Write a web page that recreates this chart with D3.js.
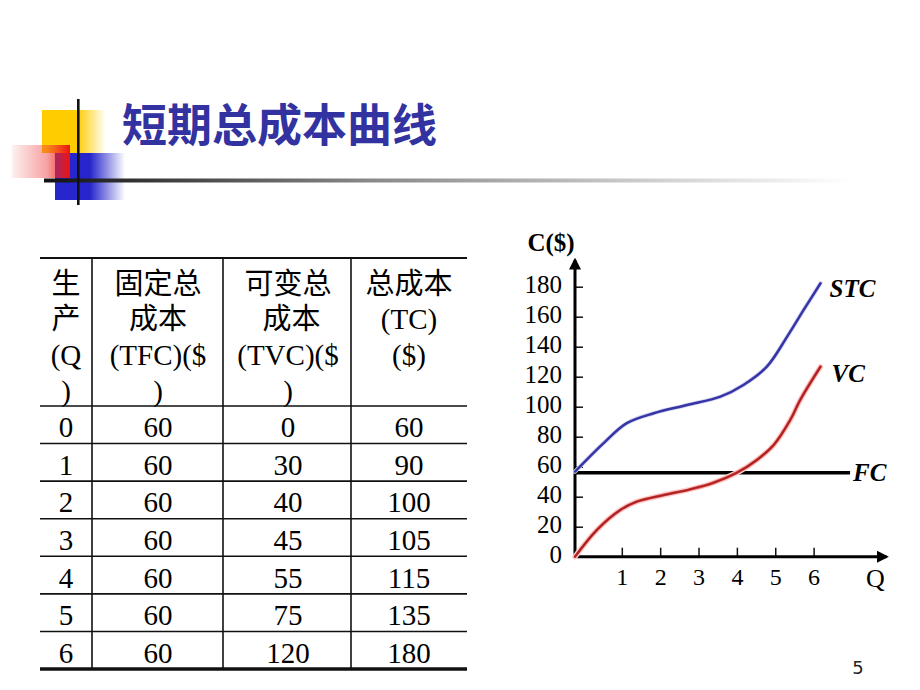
<!DOCTYPE html>
<html>
<head>
<meta charset="utf-8">
<script src="https://cdn.jsdelivr.net/npm/d3@7/dist/d3.min.js"></script>
<style>
  html, body { margin: 0; padding: 0; background: #fff; }
  svg { display: block; }
</style>
</head>
<body>
<svg id="chart" width="920" height="690"></svg>
<script>
// ---------- data ----------
const title = "短期总成本曲线";
const headerQ   = ["生", "产", "(Q", ")"];
const headerTFC = ["固定总", "成本", "(TFC)($", ")"];
const headerTVC = ["可变总", " 成本", "(TVC)($", ")"];
const headerTC  = ["总成本", "(TC)", "($)"];
const Q   = [0, 1, 2, 3, 4, 5, 6];
const TFC = [60, 60, 60, 60, 60, 60, 60];
const TVC = [0, 30, 40, 45, 55, 75, 120];
const TC  = [60, 90, 100, 105, 115, 135, 180];

// curves (Q, cost)
const stcQ = [-0.22, 0.52, 1.13, 1.83, 2.70, 3.57, 4.17, 4.78, 5.31, 5.74, 6.18];
const stcC = [56.7, 75.6, 89, 95.6, 101.1, 106.7, 114.5, 126.7, 146.7, 164.5, 182.3];
const vcQ  = [-0.22, 0.35, 0.96, 1.39, 2.09, 2.78, 3.39, 4.0, 4.52, 4.96, 5.39, 5.65, 6.18];
const vcC  = [0, 17.8, 31.1, 36.7, 41.1, 44.9, 49.3, 56, 64.5, 74.5, 91.1, 104.5, 126.7];
const fcQ  = [-0.22, 6.95];
const fcC  = [56, 56];
const yTicks = [0, 20, 40, 60, 80, 100, 120, 140, 160, 180];
const xTicks = [1, 2, 3, 4, 5, 6];
const pageNo = "5";

// ---------- setup ----------
const svg = d3.select("#chart");
const defs = svg.append("defs");
const SERIF = "'Liberation Serif', 'Times New Roman', 'Noto Sans CJK SC', serif";

function lg(id, stops, x1 = "0%", x2 = "100%", y1 = "0%", y2 = "0%") {
  const g = defs.append("linearGradient").attr("id", id)
    .attr("x1", x1).attr("x2", x2).attr("y1", y1).attr("y2", y2);
  stops.forEach(s => g.append("stop").attr("offset", s[0]).attr("stop-color", s[1]).attr("stop-opacity", s[2]));
}
lg("gYellow", [["0%", "#ffcc00", 1], ["55%", "#ffcc00", 1], ["100%", "#ffcc00", 0]]);
lg("gRed", [["0%", "#ee2222", 0.06], ["60%", "#ee3333", 0.45], ["100%", "#ee1111", 1]]);
lg("gBlue", [["0%", "#2626cc", 1], ["50%", "#2626cc", 1], ["100%", "#2626cc", 0]]);
lg("gLine", [["0%", "#111", 1], ["40%", "#888", 1], ["100%", "#fff", 1]]);

// ---------- title decoration ----------
const deco = svg.append("g");
deco.append("rect").attr("x", 42).attr("y", 110).attr("width", 64).attr("height", 43).attr("fill", "url(#gYellow)");
deco.append("rect").attr("x", 55).attr("y", 153).attr("width", 70).attr("height", 47).attr("fill", "url(#gBlue)");
deco.append("rect").attr("x", 12).attr("y", 145).attr("width", 58).attr("height", 33).attr("fill", "url(#gRed)");
deco.append("rect").attr("x", 44).attr("y", 178.5).attr("width", 806).attr("height", 4).attr("fill", "url(#gLine)");
deco.append("rect").attr("x", 77).attr("y", 99).attr("width", 2.6).attr("height", 106).attr("fill", "#111");

svg.append("text").attr("x", 122).attr("y", 142)
  .attr("font-family", "'Noto Sans CJK SC', sans-serif").attr("font-weight", 700)
  .attr("font-size", 45).attr("fill", "#3232a0").text(title);

// ---------- table ----------
const colEdges = [40, 92, 223, 351, 467];
const tableTop = 258, headBottom = 406, tableBottom = 669;
const rowScale = d3.scaleBand().domain(Q).range([headBottom, tableBottom]);
const tbl = svg.append("g").attr("font-family", SERIF).attr("fill", "#000");

tbl.append("line").attr("x1", colEdges[0]).attr("x2", colEdges[4]).attr("y1", tableTop).attr("y2", tableTop)
  .attr("stroke", "#111").attr("stroke-width", 2);
Q.forEach(q => {
  const yy = rowScale(q);
  tbl.append("line").attr("x1", colEdges[0]).attr("x2", colEdges[4]).attr("y1", yy).attr("y2", yy)
    .attr("stroke", "#111").attr("stroke-width", 1.6);
});
tbl.append("line").attr("x1", colEdges[0]).attr("x2", colEdges[4]).attr("y1", tableBottom).attr("y2", tableBottom)
  .attr("stroke", "#111").attr("stroke-width", 3.5);
colEdges.slice(1, 4).forEach(xx => {
  tbl.append("line").attr("x1", xx).attr("x2", xx).attr("y1", tableTop).attr("y2", tableBottom)
    .attr("stroke", "#111").attr("stroke-width", 1.6);
});

const colCenters = [66, 158, 288, 409];
const headers = [headerQ, headerTFC, headerTVC, headerTC];
const headLineY = [294, 329, 365, 401];
headers.forEach((lines, ci) => {
  lines.forEach((t, li) => {
    tbl.append("text").attr("x", colCenters[ci]).attr("y", headLineY[li])
      .attr("text-anchor", "middle").attr("font-size", 29)
      .attr("xml:space", "preserve").style("white-space", "pre").text(t);
  });
});
const cols = [Q, TFC, TVC, TC];
cols.forEach((arr, ci) => {
  arr.forEach((v, i) => {
    tbl.append("text").attr("x", colCenters[ci])
      .attr("y", rowScale(Q[i]) + rowScale.bandwidth() / 2 + 12.5)
      .attr("text-anchor", "middle").attr("font-size", 29).text(v);
  });
});

// ---------- chart ----------
const x = d3.scaleLinear().domain([-0.22, 7.9]).range([575, 886.5]);
const y = d3.scaleLinear().domain([0, 180]).range([556.7, 286.7]);
const ch = svg.append("g");

const yAxis = d3.axisLeft(y).tickValues(yTicks).tickSizeInner(-8).tickSizeOuter(0).tickPadding(13);
const gy = ch.append("g").attr("transform", `translate(${x(-0.22)},0)`).call(yAxis);
gy.select(".domain").remove();
gy.selectAll(".tick line").attr("stroke", "#111").attr("stroke-width", 1.5);
gy.selectAll(".tick text").attr("font-family", SERIF).attr("font-size", 25).attr("fill", "#000").attr("dy", "0.22em");

const xAxis = d3.axisBottom(x).tickValues(xTicks).tickSizeInner(-9).tickSizeOuter(0).tickPadding(11);
const gx = ch.append("g").attr("transform", `translate(0,${y(0)})`).call(xAxis);
gx.select(".domain").remove();
gx.selectAll(".tick line").attr("stroke", "#111").attr("stroke-width", 1.5);
gx.selectAll(".tick text").attr("font-family", SERIF).attr("font-size", 24).attr("fill", "#000");

defs.append("marker").attr("id", "arrow").attr("viewBox", "0 0 10 10").attr("refX", 8).attr("refY", 5)
  .attr("markerWidth", 4).attr("markerHeight", 4).attr("orient", "auto")
  .append("path").attr("d", "M0,0 L10,5 L0,10 Z").attr("fill", "#000");
ch.append("line").attr("x1", x(-0.22)).attr("x2", x(-0.22)).attr("y1", y(0) + 1.5).attr("y2", 260)
  .attr("stroke", "#000").attr("stroke-width", 3).attr("marker-end", "url(#arrow)");
ch.append("line").attr("x1", x(-0.22) - 1.5).attr("x2", x(7.9)).attr("y1", y(0)).attr("y2", y(0))
  .attr("stroke", "#000").attr("stroke-width", 3).attr("marker-end", "url(#arrow)");

const line = d3.line().x(d => x(d[0])).y(d => y(d[1])).curve(d3.curveCatmullRom.alpha(0.5));
const stc = stcQ.map((q, i) => [q, stcC[i]]);
const vc = vcQ.map((q, i) => [q, vcC[i]]);
const fc = fcQ.map((q, i) => [q, fcC[i]]);

ch.append("path").attr("d", line(fc)).attr("fill", "none").attr("stroke", "#000").attr("stroke-width", 3.5);
ch.append("path").attr("d", line(vc)).attr("fill", "none").attr("stroke", "#fdd2d2").attr("stroke-width", 5.5).attr("stroke-linecap", "round");
ch.append("path").attr("d", line(vc)).attr("fill", "none").attr("stroke", "#e45454").attr("stroke-width", 3).attr("stroke-linecap", "round");
ch.append("path").attr("d", line(vc)).attr("fill", "none").attr("stroke", "#a82222").attr("stroke-width", 1.8).attr("stroke-linecap", "round");
ch.append("path").attr("d", line(stc)).attr("fill", "none").attr("stroke", "#d0d0f0").attr("stroke-width", 4.2).attr("stroke-linecap", "round");
ch.append("path").attr("d", line(stc)).attr("fill", "none").attr("stroke", "#3535a6").attr("stroke-width", 2.5).attr("stroke-linecap", "round");

const lab = ch.append("g").attr("font-family", SERIF).attr("font-weight", 700).attr("font-size", 25).attr("fill", "#000");
lab.append("text").attr("x", 551).attr("y", 251).attr("text-anchor", "middle").text("C($)");
lab.append("text").attr("x", x(stcQ[stcQ.length - 1]) + 9).attr("y", 297).attr("font-style", "italic").text("STC");
lab.append("text").attr("x", x(vcQ[vcQ.length - 1]) + 11).attr("y", 382).attr("font-style", "italic").text("VC");
lab.append("text").attr("x", x(fcQ[1]) + 3).attr("y", y(fcC[1]) + 8.5).attr("font-style", "italic").text("FC");
ch.append("text").attr("x", 866).attr("y", 587).attr("font-family", SERIF).attr("font-size", 26).text("Q");

svg.append("text").attr("x", 858).attr("y", 674).attr("text-anchor", "middle")
  .attr("font-family", "'DejaVu Sans', sans-serif").attr("font-size", 18).attr("fill", "#222").text(pageNo);
</script>
</body>
</html>
